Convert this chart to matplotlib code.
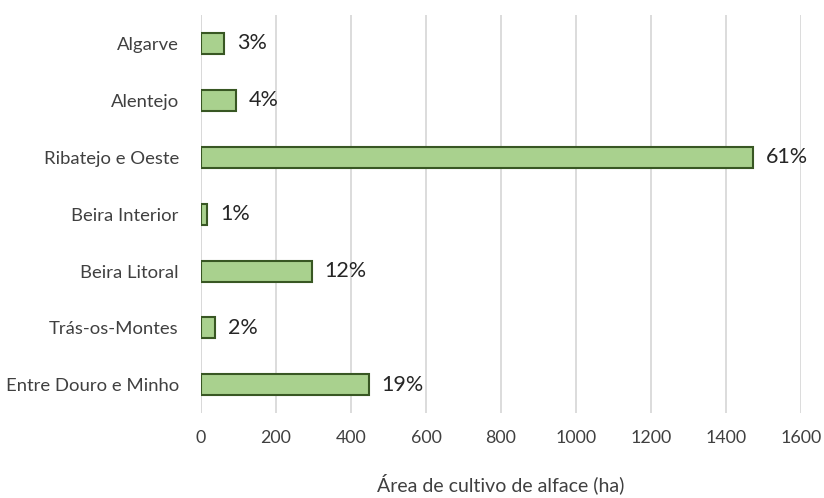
import matplotlib.pyplot as plt

plt.rcParams['font.family'] = ['Lato', 'DejaVu Sans']

regioes = ['Entre Douro e Minho', 'Trás-os-Montes', 'Beira Litoral', 'Beira Interior',
           'Ribatejo e Oeste', 'Alentejo', 'Algarve']
area = [448, 37, 296, 16, 1472, 93, 61]
pct = ['19%', '2%', '12%', '1%', '61%', '4%', '3%']
xticks = [0, 200, 400, 600, 800, 1000, 1200, 1400, 1600]

fig = plt.figure(figsize=(8.24, 4.98), dpi=100)
ax = fig.add_axes([0.244, 0.17, 0.728, 0.80])

y = range(len(regioes))
ax.barh(y, area, height=0.37, color='#A9D18E', edgecolor='#385723', linewidth=1.5, zorder=3)

# percentagens ao lado das barras
for i, (v, p) in enumerate(zip(area, pct)):
    ax.text(v + 34, i, p, va='center', ha='left', fontsize=15.5, color='#262626')

ax.set_xlim(0, 1600)
ax.set_ylim(-0.5, len(regioes) - 0.5)
ax.set_xticks(xticks)
ax.set_yticks(list(y))
ax.set_yticklabels(regioes, fontsize=13.3)
ax.tick_params(axis='both', length=0, labelcolor='#404040')
ax.tick_params(axis='x', pad=12, labelsize=12.8)
ax.tick_params(axis='y', pad=16)
ax.grid(axis='x', color='#D9D9D9', linewidth=1.3, zorder=0)
for s in ax.spines.values():
    s.set_visible(False)
ax.axvline(0, color='#D9D9D9', linewidth=1.3, zorder=1)

ax.set_xlabel('Área de cultivo de alface (ha)', fontsize=14, color='#404040', labelpad=20)

fig.savefig('out.png')
